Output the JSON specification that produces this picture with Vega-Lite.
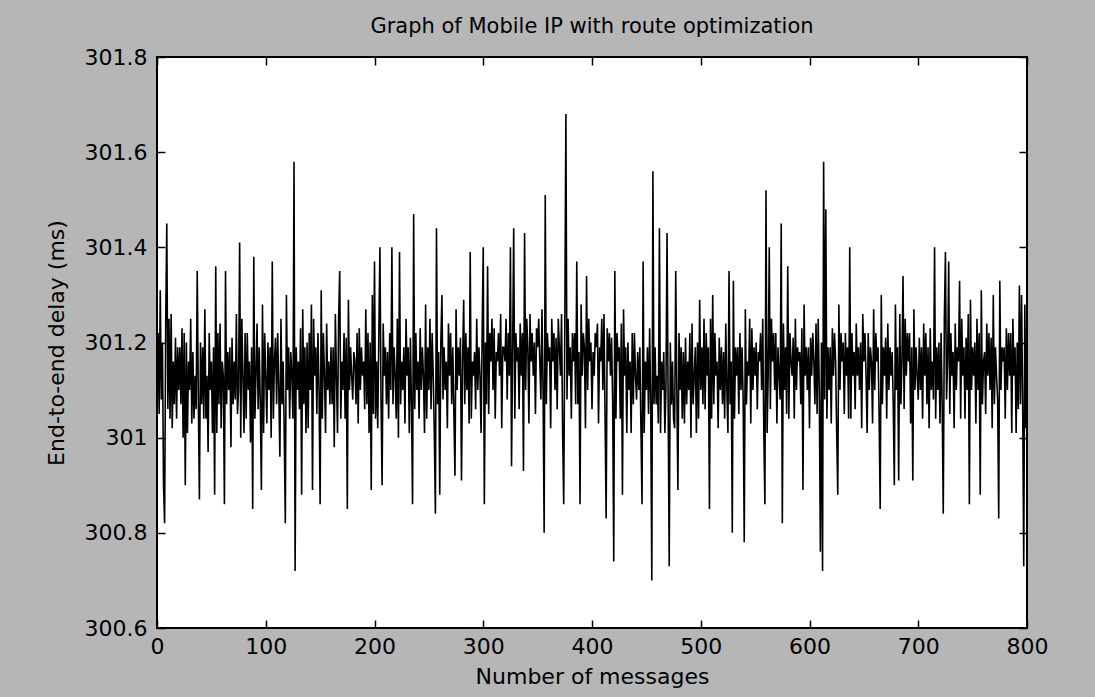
{
"$schema": "https://vega.github.io/schema/vega-lite/v6.json",
"width": 870, "height": 571,
"autosize": {"type": "none"},
"padding": {"left": 157, "top": 57, "right": 68, "bottom": 69},
"background": "#b6b6b6",
"config": {
 "view": {"fill": "white", "stroke": "black", "strokeWidth": 2},
 "font": "DejaVu Sans",
 "axis": {"grid": false, "domain": false, "tickSize": -8, "tickColor": "black", "tickWidth": 1.5, "labelFontSize": 22, "labelColor": "black", "labelFont": "DejaVu Sans", "titleFontSize": 22, "titleFontWeight": "normal", "titleColor": "black", "titleFont": "DejaVu Sans", "labelFlush": false, "labelOverlap": false}
},
"title": {"text": "Graph of Mobile IP with route optimization", "fontSize": 21, "fontWeight": "normal", "color": "black", "font": "DejaVu Sans", "baseline": "alphabetic", "offset": -8},
"data": {"values": [
{"n":1,"d":301.22},{"n":2,"d":301.05},{"n":3,"d":301.31},{"n":4,"d":301.08},{"n":5,"d":301.20},{"n":6,"d":300.90},{"n":7,"d":300.82},{"n":8,"d":301.24},{"n":9,"d":301.45},{"n":10,"d":301.06},
{"n":11,"d":301.25},{"n":12,"d":301.04},{"n":13,"d":301.26},{"n":14,"d":301.02},{"n":15,"d":301.16},{"n":16,"d":301.07},{"n":17,"d":301.21},{"n":18,"d":301.04},{"n":19,"d":301.19},{"n":20,"d":301.10},
{"n":21,"d":301.19},{"n":22,"d":301.07},{"n":23,"d":301.23},{"n":24,"d":301.00},{"n":25,"d":301.22},{"n":26,"d":300.90},{"n":27,"d":301.20},{"n":28,"d":301.01},{"n":29,"d":301.16},{"n":30,"d":301.10},
{"n":31,"d":301.25},{"n":32,"d":301.03},{"n":33,"d":301.18},{"n":34,"d":301.04},{"n":35,"d":301.13},{"n":36,"d":301.06},{"n":37,"d":301.35},{"n":38,"d":301.08},{"n":39,"d":300.87},{"n":40,"d":301.20},
{"n":41,"d":301.07},{"n":42,"d":301.19},{"n":43,"d":301.04},{"n":44,"d":301.27},{"n":45,"d":301.04},{"n":46,"d":301.13},{"n":47,"d":300.97},{"n":48,"d":301.22},{"n":49,"d":301.10},{"n":50,"d":301.16},
{"n":51,"d":301.01},{"n":52,"d":301.19},{"n":53,"d":300.88},{"n":54,"d":301.36},{"n":55,"d":301.01},{"n":56,"d":301.22},{"n":57,"d":301.07},{"n":58,"d":301.24},{"n":59,"d":301.02},{"n":60,"d":301.16},
{"n":61,"d":301.13},{"n":62,"d":300.86},{"n":63,"d":301.35},{"n":64,"d":301.07},{"n":65,"d":301.18},{"n":66,"d":301.10},{"n":67,"d":301.19},{"n":68,"d":300.98},{"n":69,"d":301.21},{"n":70,"d":301.07},
{"n":71,"d":301.16},{"n":72,"d":301.08},{"n":73,"d":301.26},{"n":74,"d":301.05},{"n":75,"d":301.10},{"n":76,"d":301.41},{"n":77,"d":301.00},{"n":78,"d":301.25},{"n":79,"d":301.13},{"n":80,"d":301.01},
{"n":81,"d":301.22},{"n":82,"d":301.04},{"n":83,"d":301.22},{"n":84,"d":301.10},{"n":85,"d":301.16},{"n":86,"d":300.99},{"n":87,"d":301.19},{"n":88,"d":300.85},{"n":89,"d":301.38},{"n":90,"d":301.04},
{"n":91,"d":301.13},{"n":92,"d":301.24},{"n":93,"d":301.06},{"n":94,"d":301.19},{"n":95,"d":301.07},{"n":96,"d":300.89},{"n":97,"d":301.28},{"n":98,"d":301.01},{"n":99,"d":301.22},{"n":100,"d":301.13},
{"n":101,"d":301.03},{"n":102,"d":301.20},{"n":103,"d":301.10},{"n":104,"d":301.19},{"n":105,"d":301.00},{"n":106,"d":301.37},{"n":107,"d":301.04},{"n":108,"d":301.16},{"n":109,"d":301.21},{"n":110,"d":301.07},
{"n":111,"d":301.22},{"n":112,"d":301.10},{"n":113,"d":300.96},{"n":114,"d":301.25},{"n":115,"d":301.07},{"n":116,"d":301.16},{"n":117,"d":301.01},{"n":118,"d":300.82},{"n":119,"d":301.30},{"n":120,"d":301.10},
{"n":121,"d":301.19},{"n":122,"d":301.04},{"n":123,"d":301.18},{"n":124,"d":301.13},{"n":125,"d":301.04},{"n":126,"d":301.58},{"n":127,"d":300.72},{"n":128,"d":301.19},{"n":129,"d":301.10},{"n":130,"d":301.16},
{"n":131,"d":301.06},{"n":132,"d":301.23},{"n":133,"d":300.88},{"n":134,"d":301.27},{"n":135,"d":301.07},{"n":136,"d":301.19},{"n":137,"d":301.01},{"n":138,"d":301.20},{"n":139,"d":301.02},{"n":140,"d":301.22},
{"n":141,"d":301.10},{"n":142,"d":301.28},{"n":143,"d":300.89},{"n":144,"d":301.25},{"n":145,"d":301.13},{"n":146,"d":301.19},{"n":147,"d":301.05},{"n":148,"d":301.22},{"n":149,"d":301.10},{"n":150,"d":300.86},
{"n":151,"d":301.31},{"n":152,"d":301.04},{"n":153,"d":301.22},{"n":154,"d":301.13},{"n":155,"d":301.01},{"n":156,"d":301.24},{"n":157,"d":301.10},{"n":158,"d":301.16},{"n":159,"d":301.07},{"n":160,"d":301.19},
{"n":161,"d":301.07},{"n":162,"d":301.19},{"n":163,"d":300.98},{"n":164,"d":301.26},{"n":165,"d":301.13},{"n":166,"d":301.01},{"n":167,"d":301.25},{"n":168,"d":301.35},{"n":169,"d":301.04},{"n":170,"d":301.16},
{"n":171,"d":301.10},{"n":172,"d":301.22},{"n":173,"d":301.04},{"n":174,"d":301.21},{"n":175,"d":300.85},{"n":176,"d":301.29},{"n":177,"d":301.10},{"n":178,"d":301.19},{"n":179,"d":301.13},{"n":180,"d":301.08},
{"n":181,"d":301.18},{"n":182,"d":301.16},{"n":183,"d":301.07},{"n":184,"d":301.22},{"n":185,"d":301.03},{"n":186,"d":301.23},{"n":187,"d":301.10},{"n":188,"d":301.19},{"n":189,"d":301.13},{"n":190,"d":301.16},
{"n":191,"d":301.06},{"n":192,"d":301.27},{"n":193,"d":301.07},{"n":194,"d":301.22},{"n":195,"d":301.01},{"n":196,"d":301.20},{"n":197,"d":300.89},{"n":198,"d":301.30},{"n":199,"d":301.05},{"n":200,"d":301.37},
{"n":201,"d":301.04},{"n":202,"d":301.16},{"n":203,"d":301.02},{"n":204,"d":301.22},{"n":205,"d":301.40},{"n":206,"d":301.08},{"n":207,"d":300.90},{"n":208,"d":301.24},{"n":209,"d":301.13},{"n":210,"d":301.19},
{"n":211,"d":301.07},{"n":212,"d":301.18},{"n":213,"d":301.04},{"n":214,"d":301.22},{"n":215,"d":301.10},{"n":216,"d":301.40},{"n":217,"d":301.07},{"n":218,"d":301.19},{"n":219,"d":301.13},{"n":220,"d":301.04},
{"n":221,"d":301.25},{"n":222,"d":301.00},{"n":223,"d":301.39},{"n":224,"d":301.07},{"n":225,"d":301.16},{"n":226,"d":301.10},{"n":227,"d":301.19},{"n":228,"d":301.03},{"n":229,"d":301.25},{"n":230,"d":301.13},
{"n":231,"d":301.19},{"n":232,"d":301.01},{"n":233,"d":301.21},{"n":234,"d":301.07},{"n":235,"d":300.86},{"n":236,"d":301.47},{"n":237,"d":301.06},{"n":238,"d":301.22},{"n":239,"d":301.10},{"n":240,"d":301.16},
{"n":241,"d":301.04},{"n":242,"d":301.23},{"n":243,"d":301.10},{"n":244,"d":301.19},{"n":245,"d":301.13},{"n":246,"d":301.01},{"n":247,"d":301.28},{"n":248,"d":301.04},{"n":249,"d":301.19},{"n":250,"d":301.10},
{"n":251,"d":301.25},{"n":252,"d":301.06},{"n":253,"d":301.22},{"n":254,"d":301.13},{"n":255,"d":301.01},{"n":256,"d":300.84},{"n":257,"d":301.44},{"n":258,"d":301.07},{"n":259,"d":301.18},{"n":260,"d":300.88},
{"n":261,"d":301.20},{"n":262,"d":301.30},{"n":263,"d":301.08},{"n":264,"d":301.19},{"n":265,"d":301.10},{"n":266,"d":301.16},{"n":267,"d":301.02},{"n":268,"d":301.24},{"n":269,"d":301.13},{"n":270,"d":301.22},
{"n":271,"d":301.07},{"n":272,"d":301.19},{"n":273,"d":301.05},{"n":274,"d":300.92},{"n":275,"d":301.27},{"n":276,"d":301.10},{"n":277,"d":301.19},{"n":278,"d":301.13},{"n":279,"d":301.21},{"n":280,"d":300.91},
{"n":281,"d":301.16},{"n":282,"d":301.29},{"n":283,"d":301.07},{"n":284,"d":301.22},{"n":285,"d":301.10},{"n":286,"d":301.19},{"n":287,"d":301.03},{"n":288,"d":301.39},{"n":289,"d":301.04},{"n":290,"d":301.16},
{"n":291,"d":301.13},{"n":292,"d":301.18},{"n":293,"d":301.06},{"n":294,"d":301.25},{"n":295,"d":301.10},{"n":296,"d":301.19},{"n":297,"d":301.13},{"n":298,"d":301.01},{"n":299,"d":301.22},{"n":300,"d":301.40},
{"n":301,"d":300.86},{"n":302,"d":301.20},{"n":303,"d":301.07},{"n":304,"d":301.36},{"n":305,"d":301.05},{"n":306,"d":301.22},{"n":307,"d":301.16},{"n":308,"d":301.25},{"n":309,"d":301.10},{"n":310,"d":301.23},
{"n":311,"d":301.04},{"n":312,"d":301.18},{"n":313,"d":301.16},{"n":314,"d":301.22},{"n":315,"d":301.13},{"n":316,"d":301.26},{"n":317,"d":301.02},{"n":318,"d":301.19},{"n":319,"d":301.19},{"n":320,"d":301.16},
{"n":321,"d":301.25},{"n":322,"d":301.08},{"n":323,"d":301.22},{"n":324,"d":301.13},{"n":325,"d":301.40},{"n":326,"d":300.94},{"n":327,"d":301.18},{"n":328,"d":301.44},{"n":329,"d":301.04},{"n":330,"d":301.22},
{"n":331,"d":301.16},{"n":332,"d":301.19},{"n":333,"d":301.06},{"n":334,"d":301.24},{"n":335,"d":301.13},{"n":336,"d":301.22},{"n":337,"d":300.93},{"n":338,"d":301.43},{"n":339,"d":301.10},{"n":340,"d":301.25},
{"n":341,"d":301.19},{"n":342,"d":301.03},{"n":343,"d":301.26},{"n":344,"d":301.16},{"n":345,"d":301.22},{"n":346,"d":301.13},{"n":347,"d":301.20},{"n":348,"d":301.05},{"n":349,"d":301.23},{"n":350,"d":301.19},
{"n":351,"d":301.25},{"n":352,"d":301.16},{"n":353,"d":301.08},{"n":354,"d":301.27},{"n":355,"d":301.10},{"n":356,"d":300.80},{"n":357,"d":301.51},{"n":358,"d":301.07},{"n":359,"d":301.22},{"n":360,"d":301.16},
{"n":361,"d":301.19},{"n":362,"d":301.02},{"n":363,"d":301.25},{"n":364,"d":301.16},{"n":365,"d":301.22},{"n":366,"d":301.10},{"n":367,"d":301.21},{"n":368,"d":301.06},{"n":369,"d":301.25},{"n":370,"d":301.19},
{"n":371,"d":301.13},{"n":372,"d":301.26},{"n":373,"d":301.01},{"n":374,"d":300.86},{"n":375,"d":301.24},{"n":376,"d":301.68},{"n":377,"d":301.08},{"n":378,"d":301.25},{"n":379,"d":301.13},{"n":380,"d":301.19},
{"n":381,"d":301.04},{"n":382,"d":301.22},{"n":383,"d":301.16},{"n":384,"d":301.22},{"n":385,"d":301.07},{"n":386,"d":301.37},{"n":387,"d":301.07},{"n":388,"d":301.18},{"n":389,"d":300.86},{"n":390,"d":301.28},
{"n":391,"d":301.13},{"n":392,"d":301.22},{"n":393,"d":301.19},{"n":394,"d":301.02},{"n":395,"d":301.34},{"n":396,"d":301.10},{"n":397,"d":301.25},{"n":398,"d":301.16},{"n":399,"d":301.20},{"n":400,"d":301.06},
{"n":401,"d":301.18},{"n":402,"d":301.13},{"n":403,"d":301.22},{"n":404,"d":301.19},{"n":405,"d":301.24},{"n":406,"d":301.03},{"n":407,"d":301.19},{"n":408,"d":301.16},{"n":409,"d":301.25},{"n":410,"d":301.10},
{"n":411,"d":301.26},{"n":412,"d":301.05},{"n":413,"d":300.83},{"n":414,"d":301.23},{"n":415,"d":301.16},{"n":416,"d":301.22},{"n":417,"d":301.13},{"n":418,"d":301.21},{"n":419,"d":301.08},{"n":420,"d":300.74},
{"n":421,"d":301.35},{"n":422,"d":301.04},{"n":423,"d":301.22},{"n":424,"d":301.16},{"n":425,"d":301.19},{"n":426,"d":301.04},{"n":427,"d":301.24},{"n":428,"d":300.88},{"n":429,"d":301.27},{"n":430,"d":301.13},
{"n":431,"d":301.19},{"n":432,"d":301.01},{"n":433,"d":301.20},{"n":434,"d":301.10},{"n":435,"d":301.16},{"n":436,"d":301.01},{"n":437,"d":301.22},{"n":438,"d":301.07},{"n":439,"d":301.22},{"n":440,"d":301.13},
{"n":441,"d":301.08},{"n":442,"d":301.18},{"n":443,"d":301.10},{"n":444,"d":301.19},{"n":445,"d":301.02},{"n":446,"d":300.86},{"n":447,"d":301.37},{"n":448,"d":301.01},{"n":449,"d":301.16},{"n":450,"d":301.10},
{"n":451,"d":301.19},{"n":452,"d":301.05},{"n":453,"d":301.23},{"n":454,"d":301.07},{"n":455,"d":300.70},{"n":456,"d":301.56},{"n":457,"d":301.07},{"n":458,"d":301.19},{"n":459,"d":301.07},{"n":460,"d":301.13},
{"n":461,"d":301.03},{"n":462,"d":301.44},{"n":463,"d":301.01},{"n":464,"d":301.16},{"n":465,"d":301.10},{"n":466,"d":301.18},{"n":467,"d":301.01},{"n":468,"d":301.10},{"n":469,"d":301.43},{"n":470,"d":301.08},
{"n":471,"d":300.73},{"n":472,"d":301.20},{"n":473,"d":301.07},{"n":474,"d":301.16},{"n":475,"d":301.04},{"n":476,"d":301.02},{"n":477,"d":301.35},{"n":478,"d":301.10},{"n":479,"d":300.89},{"n":480,"d":301.22},
{"n":481,"d":301.10},{"n":482,"d":301.19},{"n":483,"d":301.04},{"n":484,"d":301.18},{"n":485,"d":301.03},{"n":486,"d":301.21},{"n":487,"d":301.07},{"n":488,"d":301.16},{"n":489,"d":301.10},{"n":490,"d":301.22},
{"n":491,"d":301.00},{"n":492,"d":301.24},{"n":493,"d":301.07},{"n":494,"d":301.13},{"n":495,"d":301.19},{"n":496,"d":301.01},{"n":497,"d":301.20},{"n":498,"d":301.04},{"n":499,"d":301.29},{"n":500,"d":301.10},
{"n":501,"d":301.19},{"n":502,"d":301.07},{"n":503,"d":301.25},{"n":504,"d":301.06},{"n":505,"d":301.22},{"n":506,"d":301.13},{"n":507,"d":301.19},{"n":508,"d":300.85},{"n":509,"d":301.25},{"n":510,"d":301.04},
{"n":511,"d":301.30},{"n":512,"d":301.07},{"n":513,"d":301.22},{"n":514,"d":301.13},{"n":515,"d":301.16},{"n":516,"d":301.02},{"n":517,"d":301.21},{"n":518,"d":301.10},{"n":519,"d":301.19},{"n":520,"d":301.07},
{"n":521,"d":301.18},{"n":522,"d":301.04},{"n":523,"d":301.24},{"n":524,"d":301.10},{"n":525,"d":301.01},{"n":526,"d":301.35},{"n":527,"d":301.07},{"n":528,"d":301.16},{"n":529,"d":300.80},{"n":530,"d":301.33},
{"n":531,"d":301.04},{"n":532,"d":301.19},{"n":533,"d":301.13},{"n":534,"d":301.19},{"n":535,"d":301.05},{"n":536,"d":301.22},{"n":537,"d":301.10},{"n":538,"d":301.19},{"n":539,"d":301.08},{"n":540,"d":300.78},
{"n":541,"d":301.27},{"n":542,"d":301.07},{"n":543,"d":301.16},{"n":544,"d":301.13},{"n":545,"d":301.25},{"n":546,"d":301.03},{"n":547,"d":301.23},{"n":548,"d":301.10},{"n":549,"d":301.19},{"n":550,"d":301.13},
{"n":551,"d":301.20},{"n":552,"d":301.06},{"n":553,"d":301.18},{"n":554,"d":301.16},{"n":555,"d":301.22},{"n":556,"d":301.10},{"n":557,"d":301.25},{"n":558,"d":301.01},{"n":559,"d":300.86},{"n":560,"d":301.52},
{"n":561,"d":301.01},{"n":562,"d":301.13},{"n":563,"d":301.40},{"n":564,"d":301.06},{"n":565,"d":301.25},{"n":566,"d":301.16},{"n":567,"d":301.22},{"n":568,"d":301.10},{"n":569,"d":301.22},{"n":570,"d":301.03},
{"n":571,"d":301.19},{"n":572,"d":301.13},{"n":573,"d":301.08},{"n":574,"d":301.45},{"n":575,"d":300.82},{"n":576,"d":301.24},{"n":577,"d":301.10},{"n":578,"d":301.19},{"n":579,"d":301.05},{"n":580,"d":301.36},
{"n":581,"d":301.04},{"n":582,"d":301.22},{"n":583,"d":301.16},{"n":584,"d":301.13},{"n":585,"d":301.21},{"n":586,"d":301.04},{"n":587,"d":301.25},{"n":588,"d":301.10},{"n":589,"d":301.19},{"n":590,"d":301.16},
{"n":591,"d":301.18},{"n":592,"d":301.07},{"n":593,"d":301.23},{"n":594,"d":300.89},{"n":595,"d":301.28},{"n":596,"d":301.13},{"n":597,"d":301.19},{"n":598,"d":301.10},{"n":599,"d":301.19},{"n":600,"d":301.02},
{"n":601,"d":301.21},{"n":602,"d":301.13},{"n":603,"d":301.22},{"n":604,"d":301.16},{"n":605,"d":301.07},{"n":606,"d":301.24},{"n":607,"d":301.05},{"n":608,"d":301.25},{"n":609,"d":301.10},{"n":610,"d":300.76},
{"n":611,"d":301.20},{"n":612,"d":300.72},{"n":613,"d":301.58},{"n":614,"d":301.08},{"n":615,"d":301.48},{"n":616,"d":301.04},{"n":617,"d":301.19},{"n":618,"d":301.10},{"n":619,"d":301.19},{"n":620,"d":301.03},
{"n":621,"d":301.23},{"n":622,"d":301.13},{"n":623,"d":301.22},{"n":624,"d":301.16},{"n":625,"d":301.01},{"n":626,"d":300.88},{"n":627,"d":301.28},{"n":628,"d":301.10},{"n":629,"d":301.22},{"n":630,"d":301.16},
{"n":631,"d":301.20},{"n":632,"d":301.05},{"n":633,"d":301.22},{"n":634,"d":301.13},{"n":635,"d":301.19},{"n":636,"d":301.04},{"n":637,"d":301.40},{"n":638,"d":301.04},{"n":639,"d":301.22},{"n":640,"d":301.13},
{"n":641,"d":301.18},{"n":642,"d":301.06},{"n":643,"d":301.24},{"n":644,"d":301.13},{"n":645,"d":301.19},{"n":646,"d":301.10},{"n":647,"d":301.20},{"n":648,"d":301.02},{"n":649,"d":301.26},{"n":650,"d":301.16},
{"n":651,"d":301.22},{"n":652,"d":301.13},{"n":653,"d":301.01},{"n":654,"d":301.22},{"n":655,"d":301.10},{"n":656,"d":301.19},{"n":657,"d":301.16},{"n":658,"d":301.03},{"n":659,"d":301.27},{"n":660,"d":301.10},
{"n":661,"d":301.22},{"n":662,"d":301.16},{"n":663,"d":301.19},{"n":664,"d":301.05},{"n":665,"d":300.85},{"n":666,"d":301.30},{"n":667,"d":301.07},{"n":668,"d":301.19},{"n":669,"d":301.13},{"n":670,"d":301.21},
{"n":671,"d":301.04},{"n":672,"d":301.24},{"n":673,"d":301.10},{"n":674,"d":301.19},{"n":675,"d":301.13},{"n":676,"d":301.18},{"n":677,"d":301.07},{"n":678,"d":300.90},{"n":679,"d":301.28},{"n":680,"d":301.10},
{"n":681,"d":301.19},{"n":682,"d":300.91},{"n":683,"d":301.26},{"n":684,"d":301.07},{"n":685,"d":301.16},{"n":686,"d":301.34},{"n":687,"d":301.06},{"n":688,"d":301.25},{"n":689,"d":301.13},{"n":690,"d":301.22},
{"n":691,"d":301.16},{"n":692,"d":301.22},{"n":693,"d":301.03},{"n":694,"d":301.19},{"n":695,"d":300.91},{"n":696,"d":301.27},{"n":697,"d":301.10},{"n":698,"d":301.19},{"n":699,"d":301.13},{"n":700,"d":301.08},
{"n":701,"d":301.21},{"n":702,"d":301.10},{"n":703,"d":301.19},{"n":704,"d":301.04},{"n":705,"d":301.24},{"n":706,"d":301.13},{"n":707,"d":301.22},{"n":708,"d":301.07},{"n":709,"d":301.19},{"n":710,"d":301.02},
{"n":711,"d":301.23},{"n":712,"d":301.10},{"n":713,"d":301.16},{"n":714,"d":301.08},{"n":715,"d":301.40},{"n":716,"d":301.04},{"n":717,"d":301.19},{"n":718,"d":301.10},{"n":719,"d":301.20},{"n":720,"d":301.03},
{"n":721,"d":301.22},{"n":722,"d":301.07},{"n":723,"d":300.84},{"n":724,"d":301.25},{"n":725,"d":301.39},{"n":726,"d":301.08},{"n":727,"d":301.16},{"n":728,"d":301.37},{"n":729,"d":301.05},{"n":730,"d":301.22},
{"n":731,"d":301.13},{"n":732,"d":301.18},{"n":733,"d":301.02},{"n":734,"d":301.24},{"n":735,"d":301.10},{"n":736,"d":301.19},{"n":737,"d":301.16},{"n":738,"d":301.33},{"n":739,"d":301.04},{"n":740,"d":301.25},
{"n":741,"d":301.13},{"n":742,"d":301.19},{"n":743,"d":301.04},{"n":744,"d":301.21},{"n":745,"d":301.10},{"n":746,"d":301.26},{"n":747,"d":300.86},{"n":748,"d":301.29},{"n":749,"d":301.10},{"n":750,"d":301.19},
{"n":751,"d":301.13},{"n":752,"d":301.20},{"n":753,"d":301.03},{"n":754,"d":301.25},{"n":755,"d":301.10},{"n":756,"d":301.22},{"n":757,"d":300.88},{"n":758,"d":301.31},{"n":759,"d":301.07},{"n":760,"d":301.16},
{"n":761,"d":301.18},{"n":762,"d":301.05},{"n":763,"d":301.24},{"n":764,"d":301.13},{"n":765,"d":301.22},{"n":766,"d":301.10},{"n":767,"d":301.21},{"n":768,"d":301.02},{"n":769,"d":301.30},{"n":770,"d":301.07},
{"n":771,"d":301.19},{"n":772,"d":301.13},{"n":773,"d":301.08},{"n":774,"d":300.83},{"n":775,"d":301.33},{"n":776,"d":301.10},{"n":777,"d":301.19},{"n":778,"d":301.16},{"n":779,"d":301.19},{"n":780,"d":301.04},
{"n":781,"d":301.23},{"n":782,"d":301.10},{"n":783,"d":301.22},{"n":784,"d":301.13},{"n":785,"d":301.22},{"n":786,"d":301.01},{"n":787,"d":301.25},{"n":788,"d":301.13},{"n":789,"d":301.19},{"n":790,"d":301.01},
{"n":791,"d":301.20},{"n":792,"d":301.06},{"n":793,"d":301.32},{"n":794,"d":301.07},{"n":795,"d":301.30},{"n":796,"d":301.08},{"n":797,"d":300.73},{"n":798,"d":301.28},{"n":799,"d":301.02},{"n":800,"d":301.20}
]},
"layer": [
 {"mark": {"type": "line", "color": "black", "strokeWidth": 1.6},
  "encoding": {
   "x": {"field": "n", "type": "quantitative", "scale": {"domain": [0, 800], "nice": false, "zero": false},
     "axis": {"orient": "bottom", "values": [0,100,200,300,400,500,600,700,800], "title": "Number of messages", "labelPadding": 16, "titlePadding": 9}},
   "y": {"field": "d", "type": "quantitative", "scale": {"domain": [300.6, 301.8], "nice": false, "zero": false},
     "axis": {"orient": "left", "values": [300.6,300.8,301,301.2,301.4,301.6,301.8], "labelExpr": "datum.value == 301 ? '301' : format(datum.value, '.1f')", "title": "End-to-end delay (ms)", "labelPadding": 18, "titlePadding": 16}}
  }},
 {"mark": {"type": "point", "opacity": 0},
  "encoding": {
   "x": {"field": "n", "type": "quantitative", "axis": {"orient": "top", "values": [0,100,200,300,400,500,600,700,800], "labels": false, "title": null}},
   "y": {"field": "d", "type": "quantitative", "axis": {"orient": "right", "values": [300.6,300.8,301,301.2,301.4,301.6,301.8], "labels": false, "title": null}}
  }}
],
"resolve": {"axis": {"x": "independent", "y": "independent"}}
}
